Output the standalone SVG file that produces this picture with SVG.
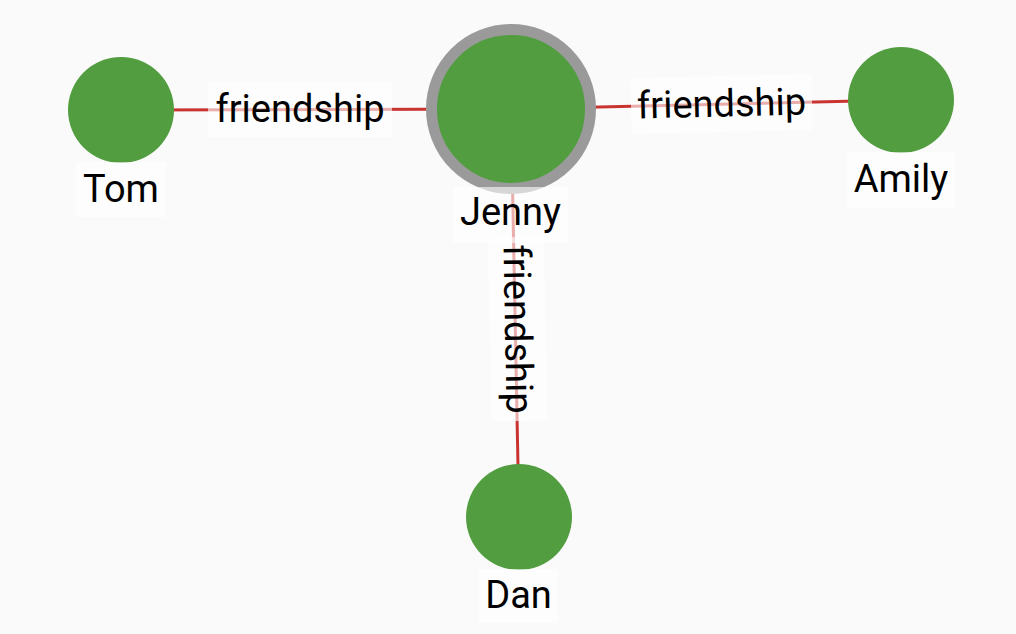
<svg xmlns="http://www.w3.org/2000/svg" width="1016" height="634" viewBox="0 0 1016 634">
<style>
.bg{fill:#fafafa}
.edge{stroke:#c93330;stroke-width:3;fill:none}
.node{fill:#519d3f}
.lbox{fill:#ffffff;fill-opacity:0.6}
.t{font-family:Roboto,"Liberation Sans",sans-serif;font-size:38px;fill:#000;text-anchor:middle}
</style>
<rect class="bg" x="0" y="0" width="1016" height="634"/>
<g id="connectors">
<line class="edge" x1="121" y1="110" x2="511" y2="109"/>
<line class="edge" x1="511" y1="109" x2="901" y2="100"/>
<line class="edge" x1="511" y1="109" x2="519" y2="517"/>
</g>
<g id="node-tom">
<circle class="node" cx="121" cy="110" r="53"/>
<rect class="lbox" x="76" y="162" width="90" height="55"/>
<text class="t" x="121" y="202">Tom</text>
</g>
<g id="node-jenny">
<circle class="node" cx="511" cy="109" r="79.5" stroke="#9a9a9a" stroke-width="11"/>
<rect class="lbox" x="453" y="187" width="115" height="56"/>
<text class="t" x="510.5" y="225">Jenny</text>
</g>
<g id="node-amily">
<circle class="node" cx="901" cy="100" r="53"/>
<rect class="lbox" x="847" y="152" width="108" height="56"/>
<text class="t" x="901" y="192">Amily</text>
</g>
<g id="node-dan">
<circle class="node" cx="519" cy="517" r="53"/>
<rect class="lbox" x="479" y="569" width="79" height="54"/>
<text class="t" x="518.5" y="608">Dan</text>
</g>
<g id="edge-labels">
<g transform="translate(300,109.5)">
<rect class="lbox" x="-92" y="-27.5" width="184" height="55"/>
<text class="t" x="0" y="12.5">friendship</text>
</g>
<g transform="translate(721.5,104) rotate(-1.32)">
<rect class="lbox" x="-90.5" y="-28" width="181" height="56"/>
<text class="t" x="0" y="12.5">friendship</text>
</g>
<g transform="translate(517.5,329) rotate(88.9)">
<rect class="lbox" x="-92" y="-28" width="184" height="56"/>
<text class="t" x="0" y="12.5">friendship</text>
</g>
</g>
</svg>
